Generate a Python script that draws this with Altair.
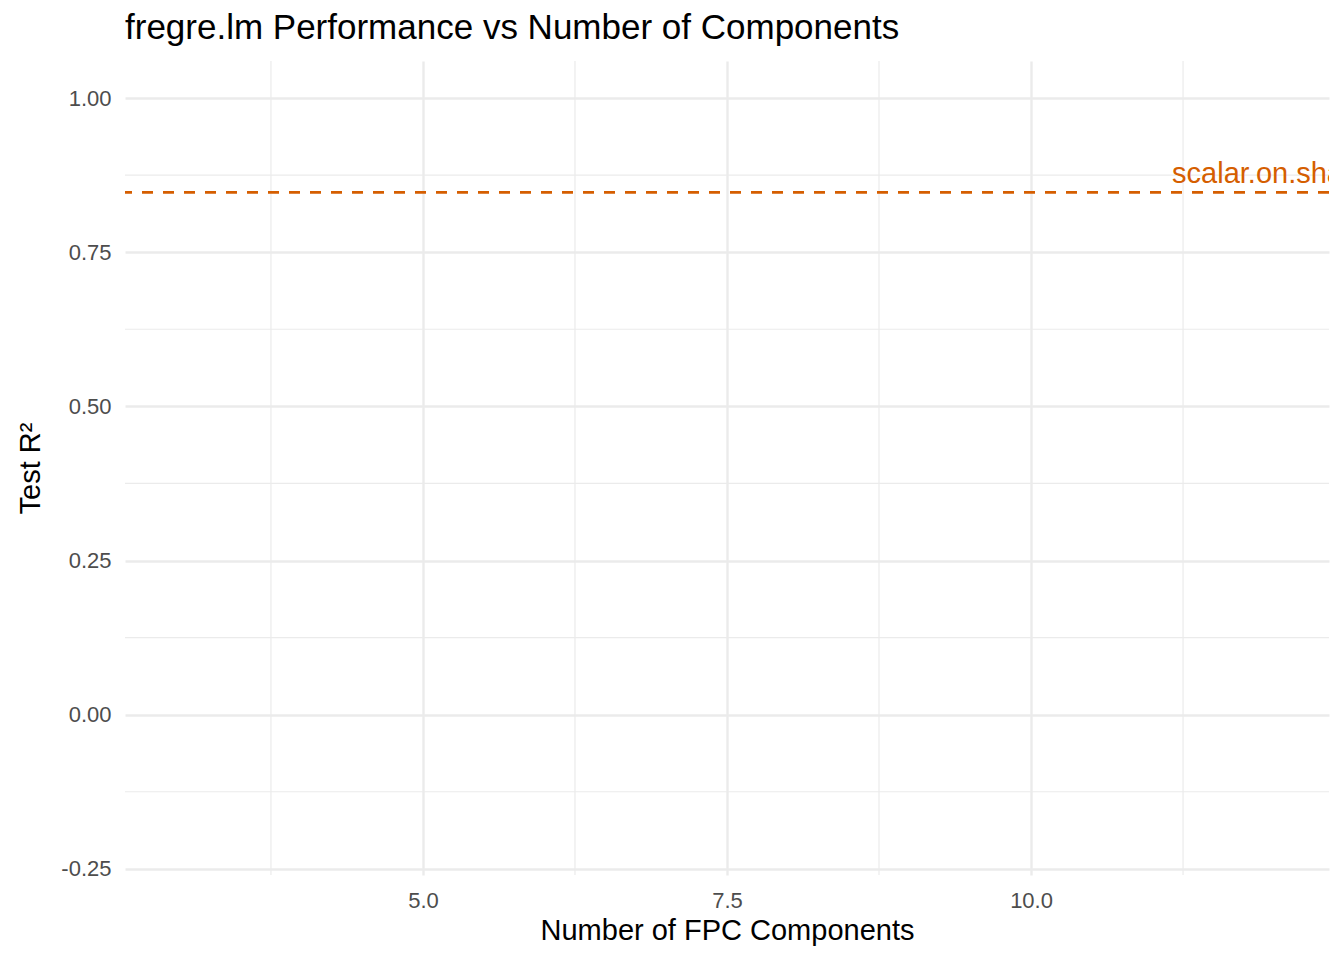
import altair as alt
import pandas as pd

# ---- data ----
components = [3, 4, 5, 6, 7, 8, 9, 10, 11, 12]      # x range of the study
y_limits = [-0.2, 1.0]                               # y limits
x_breaks = [5.0, 7.5, 10.0]
x_minor = [3.75, 6.25, 8.75, 11.25]
y_breaks = [-0.25, 0.0, 0.25, 0.50, 0.75, 1.00]
y_minor = [-0.125, 0.125, 0.375, 0.625, 0.875]
ref_label = ["scalar.on.shape"]
ref_r2 = [0.847]
label_x = [11.16]

FONT = "Liberation Sans"
GRID = "#EBEBEB"
ORANGE = "#D55E00"

xr = max(components) - min(components)
x_dom = [min(components) - 0.05 * xr, max(components) + 0.05 * xr]
yr = y_limits[1] - y_limits[0]
y_dom = [y_limits[0] - 0.05 * yr, y_limits[1] + 0.05 * yr]

xs = alt.Scale(domain=x_dom, nice=False, zero=False)
ys = alt.Scale(domain=y_dom, nice=False, zero=False)

x_axis = alt.Axis(
    values=x_breaks, format=".1f", grid=True, gridColor=GRID, gridWidth=2.4,
    domain=False, ticks=False, labelFont=FONT, labelFontSize=22,
    labelColor="#4D4D4D", labelPadding=15, title="Number of FPC Components",
    titleFont=FONT, titleFontSize=29, titleFontWeight="normal",
    titleColor="black", titlePadding=5,
)
y_axis = alt.Axis(
    values=y_breaks, grid=True, gridColor=GRID, gridWidth=2.4,
    labelExpr="datum.value < 0 ? '-' + format(abs(datum.value), '.2f') : format(datum.value, '.2f')",
    domain=False, ticks=False, labelFont=FONT, labelFontSize=22,
    labelColor="#4D4D4D", labelPadding=14, title="Test R²",
    titleFont=FONT, titleFontSize=29, titleFontWeight="normal",
    titleColor="black", titlePadding=15,
)

minor_x = alt.Chart(pd.DataFrame({"x": x_minor})).mark_rule(
    color=GRID, strokeWidth=1.2
).encode(x=alt.X("x:Q", scale=xs, axis=x_axis))

minor_y = alt.Chart(pd.DataFrame({"y": y_minor})).mark_rule(
    color=GRID, strokeWidth=1.2
).encode(y=alt.Y("y:Q", scale=ys, axis=y_axis))

ref_df = pd.DataFrame({"label": ref_label, "r2": ref_r2, "x": label_x})

hline = alt.Chart(ref_df).mark_rule(
    color=ORANGE, strokeWidth=2.8, strokeDash=[11, 10]
).encode(y=alt.Y("r2:Q", scale=ys, axis=y_axis))

label = alt.Chart(ref_df).mark_text(
    color=ORANGE, fontSize=29, font=FONT, align="left",
    baseline="alphabetic", dy=-9, clip=True
).encode(
    x=alt.X("x:Q", scale=xs, axis=x_axis),
    y=alt.Y("r2:Q", scale=ys, axis=y_axis),
    text="label:N",
)

chart = alt.layer(minor_x, minor_y, hline, label).properties(
    width=1204, height=814,
    title=alt.TitleParams(
        "fregre.lm Performance vs Number of Components", anchor="start",
        frame="group", fontSize=35, fontWeight="normal", font=FONT,
        color="black", offset=14,
    ),
    autosize=alt.AutoSizeParams(type="none"),
    padding={"left": 117, "top": 53, "right": 7, "bottom": 77},
    background="white",
).configure_view(stroke=None)

chart.save("out.html", embed_options={"renderer": "svg", "actions": False})
